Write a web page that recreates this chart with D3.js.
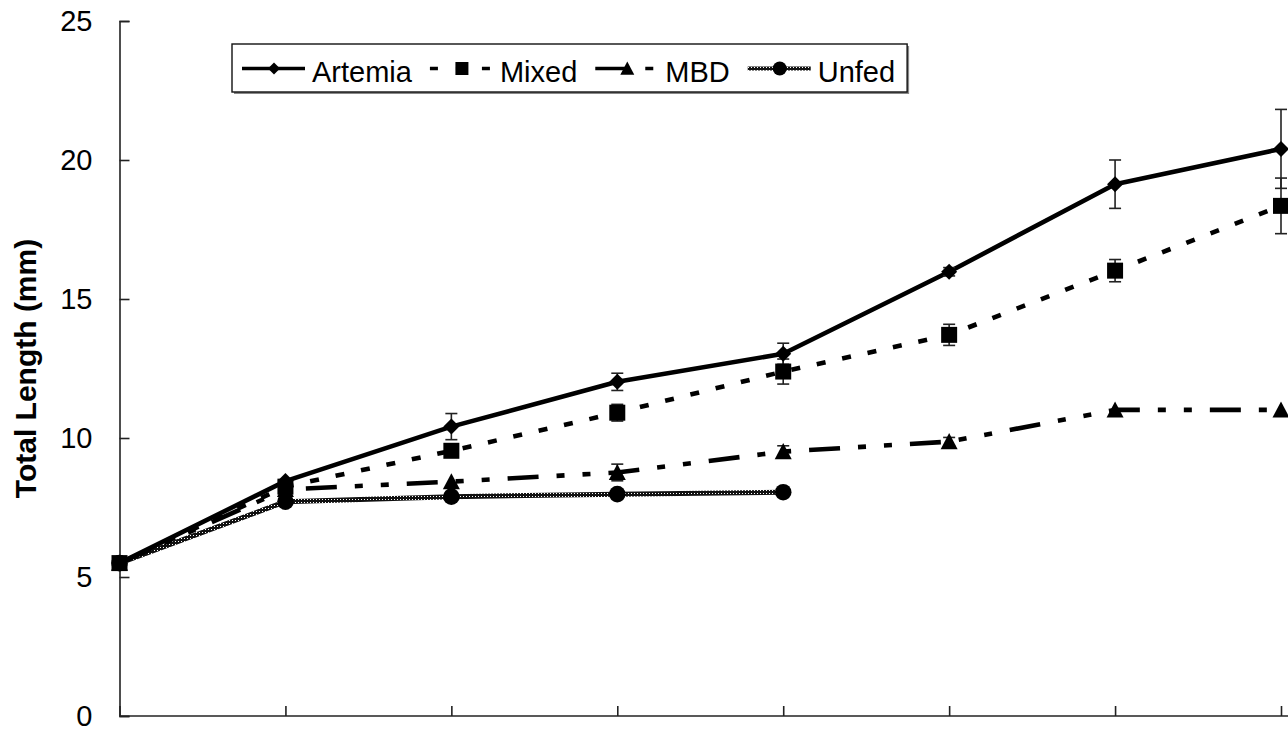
<!DOCTYPE html>
<html>
<head>
<meta charset="utf-8">
<script src="https://cdn.jsdelivr.net/npm/d3@7"></script>
<style>
  html, body { margin: 0; padding: 0; background: #fff; }
  svg { display: block; font-family: "Liberation Sans", Arial, sans-serif; }
</style>
</head>
<body>
<svg id="chart" width="1288" height="731"></svg>
<script>
// ---- data ----
const categories = ["1", "2", "3", "4", "5", "6", "7", "8"];
const yTicks = [0, 5, 10, 15, 20, 25];
const seriesNames = ["Artemia", "Mixed", "MBD", "Unfed"];
const artemia = [5.5, 8.45, 10.41, 12.02, 13.03, 15.98, 19.13, 20.4];
const artemiaErr = [0, 0, 0.47, 0.31, 0.38, 0.15, 0.87, 1.42];
const mixed = [5.5, 8.25, 9.54, 10.91, 12.39, 13.71, 16.02, 18.35];
const mixedErr = [0, 0, 0, 0.3, 0.45, 0.38, 0.4, 1.0];
const mbd = [5.5, 8.15, 8.43, 8.76, 9.51, 9.87, 11.01, 11.01];
const mbdErr = [0, 0, 0, 0.3, 0.21, 0.15, 0, 0];
const unfed = [5.5, 7.71, 7.89, 7.98, 8.05, null, null, null];
const unfedErr = [0, 0, 0, 0, 0, 0, 0, 0];
const yLabel = "Total Length (mm)";

// ---- setup ----
const svg = d3.select("#chart");
const x = d3.scalePoint().domain(categories).range([119.5, 1281]).padding(0);
const y = d3.scaleLinear().domain([0, 25]).range([716, 21]);

const defs = svg.append("defs");
const pat = defs.append("pattern").attr("id", "checker")
  .attr("width", 3).attr("height", 3).attr("patternUnits", "userSpaceOnUse");
pat.append("rect").attr("width", 3).attr("height", 3).attr("fill", "#111");
pat.append("rect").attr("x", 1).attr("y", 1).attr("width", 1).attr("height", 1).attr("fill", "#fff");

const styles = {
  Artemia: { dash: null, stroke: "#000", marker: "diamond" },
  Mixed: { dash: "9,17", stroke: "#000", marker: "square" },
  MBD: { dash: "31,18,8,18,8,18", stroke: "#000", marker: "triangle" },
  Unfed: { dash: null, stroke: "url(#checker)", marker: "circle" }
};

const series = [
  { name: "Artemia", values: artemia, err: artemiaErr },
  { name: "Mixed", values: mixed, err: mixedErr },
  { name: "MBD", values: mbd, err: mbdErr },
  { name: "Unfed", values: unfed, err: unfedErr }
];

function markerPath(type, s) {
  if (type === "diamond") return `M0,${-s}L${s},0L0,${s}L${-s},0Z`;
  if (type === "square") return `M${-s},${-s}H${s}V${s}H${-s}Z`;
  if (type === "triangle") return `M0,${-s}L${s},${s * 0.9}L${-s},${s * 0.9}Z`;
  if (type === "circle") return d3.symbol(d3.symbolCircle, Math.PI * s * s)();
  return "";
}
const markerSize = { diamond: 8, square: 8, triangle: 8.5, circle: 8.3 };

// ---- axes ----
const yAxis = d3.axisLeft(y).tickValues(yTicks).tickSize(-10).tickPadding(27).tickFormat(d3.format("d"));
const gy = svg.append("g").attr("transform", "translate(119.5,0)").call(yAxis);
gy.select(".domain").attr("stroke", "#222").attr("stroke-width", 1.6);
gy.selectAll(".tick line").attr("stroke", "#222").attr("stroke-width", 1.6);
gy.selectAll(".tick text").attr("font-size", 29).attr("fill", "#000")
  .attr("font-family", "'Liberation Sans', Arial, sans-serif");

const xAxis = d3.axisBottom(x).tickSize(-10).tickFormat("");
const gx = svg.append("g").attr("transform", "translate(0,716)").call(xAxis);
gx.select(".domain").attr("stroke", "#222").attr("stroke-width", 1.6)
  .attr("d", "M119.5,0H1288");
gx.selectAll(".tick line").attr("stroke", "#222").attr("stroke-width", 1.6);

svg.append("text")
  .attr("transform", `translate(36,${(y(0) + y(25)) / 2}) rotate(-90)`)
  .attr("text-anchor", "middle")
  .attr("font-size", 30).attr("font-weight", "bold")
  .text(yLabel);

// ---- lines ----
const line = d3.line()
  .defined(d => d.v !== null)
  .x(d => x(d.c)).y(d => y(d.v));

const plot = svg.append("g");
series.slice().reverse().forEach(s => {
  const st = styles[s.name];
  const pts = categories.map((c, i) => ({ c, v: s.values[i] }));
  plot.append("path").datum(pts)
    .attr("d", line)
    .attr("fill", "none")
    .attr("stroke", st.stroke)
    .attr("stroke-width", s.name === "Unfed" ? 5 : 4.6)
    .attr("stroke-dasharray", st.dash)
    .attr("stroke-linejoin", "round");
});

// ---- error bars ----
series.forEach(s => {
  categories.forEach((c, i) => {
    const v = s.values[i], e = s.err[i];
    if (v === null || !e) return;
    const cx = x(c);
    const g = plot.append("g").attr("stroke", "#222").attr("stroke-width", 1.6);
    g.append("line").attr("x1", cx).attr("x2", cx).attr("y1", y(v - e)).attr("y2", y(v + e));
    g.append("line").attr("x1", cx - 6).attr("x2", cx + 6).attr("y1", y(v + e)).attr("y2", y(v + e));
    g.append("line").attr("x1", cx - 6).attr("x2", cx + 6).attr("y1", y(v - e)).attr("y2", y(v - e));
  });
});

// ---- markers ----
series.forEach(s => {
  const st = styles[s.name];
  categories.forEach((c, i) => {
    const v = s.values[i];
    if (v === null) return;
    plot.append("path")
      .attr("transform", `translate(${x(c)},${y(v)})`)
      .attr("d", markerPath(st.marker, markerSize[st.marker]))
      .attr("fill", "#000");
  });
});

// ---- legend ----
const lg = svg.append("g");
const boxX = 232, boxY = 44, boxH = 48;
const fontSize = 29;
let cursor = 242;
const items = [];
seriesNames.forEach(name => {
  const t = lg.append("text").attr("font-size", fontSize).attr("y", boxY + 38).text(name);
  const sampleStart = cursor;
  const textX = sampleStart + 63 + 7;
  t.attr("x", textX);
  const w = t.node().getComputedTextLength();
  items.push({ name, sampleStart });
  cursor = textX + w + 18;
});
const boxW = cursor - boxX - 6;
lg.insert("rect", ":first-child")
  .attr("x", boxX + 2).attr("y", boxY + 2).attr("width", boxW).attr("height", boxH)
  .attr("fill", "#888");
lg.insert("rect", "text")
  .attr("x", boxX).attr("y", boxY).attr("width", boxW).attr("height", boxH)
  .attr("fill", "#fff").attr("stroke", "#111").attr("stroke-width", 1.4);

const legendSmall = { diamond: 6, square: 6.5, triangle: 7, circle: 7 };
items.forEach(it => {
  const st = styles[it.name];
  const ly = boxY + 24.5;
  lg.append("line")
    .attr("x1", it.sampleStart).attr("x2", it.sampleStart + 63)
    .attr("y1", ly).attr("y2", ly)
    .attr("stroke", st.stroke)
    .attr("stroke-width", it.name === "Unfed" ? 4 : 3.5)
    .attr("stroke-dasharray", it.name === "Mixed" ? "8,18" : (it.name === "MBD" ? "32,18,8,18" : null));
  lg.append("path")
    .attr("transform", `translate(${it.sampleStart + 32},${ly})`)
    .attr("d", markerPath(st.marker, legendSmall[st.marker]))
    .attr("fill", "#000");
});
</script>
</body>
</html>
